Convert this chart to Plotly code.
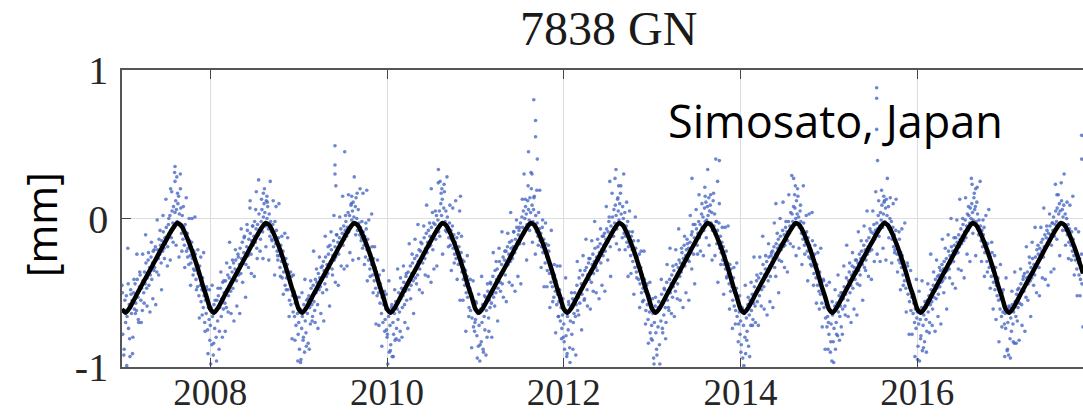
import numpy as np
import plotly.graph_objects as go

# ---------------- data ----------------
title_text = "7838 GN"
station_text = "Simosato, Japan"
y_label = "[mm]"
x_tick_vals = [2008, 2010, 2012, 2014, 2016]
x_tick_text = ["2008", "2010", "2012", "2014", "2016"]
y_tick_vals = [-1, 0, 1]
y_tick_text = ["-1", "0", "1"]

scatter_years = [2007, 2008, 2009, 2010, 2011, 2012, 2013, 2014, 2015, 2016, 2017]

# core cloud: one sample every 3 days from Jan 1 of each year
core_step_days = 3
core_2007 = [
    -0.45, -0.78, -0.62, -0.88, -0.55, -0.70, -0.52, -0.66, -0.20, -0.74,
    -0.58, -0.93, -0.48, -0.64, -0.55, -0.80, -0.50, -0.61, -0.44, -0.57,
    -0.62, -0.41, -0.53, -0.70, -0.46, -0.38, -0.55, -0.47, -0.62, -0.42,
    -0.50, -0.36, -0.44, -0.30, -0.47, -0.40, -0.28, -0.45, -0.33, -0.38,
    -0.26, -0.41, -0.30, -0.22, -0.35, -0.33, -0.19, -0.28, -0.36, -0.21,
    -0.27, -0.14, -0.24, -0.18, -0.30, -0.15, -0.22, -0.09, -0.20, -0.13,
    -0.17, -0.06, -0.12, -0.19, -0.04, -0.10, 0.02, -0.08, -0.13, 0.05,
    -0.03, 0.08, -0.06, 0.04, 0.12, 0.06, -0.02, 0.10, 0.15, 0.03,
    -0.05, 0.07, -0.10, 0.02, -0.14, -0.06, -0.18, -0.04, -0.12, -0.22,
    -0.10, -0.20, -0.31, -0.15, -0.25, -0.30, -0.16, -0.27, -0.38, -0.22,
    -0.35, -0.24, -0.41, -0.30, -0.46, -0.37, -0.52, -0.32, -0.45, -0.56,
    -0.48, -0.40, -0.60, -0.52, -0.70, -0.55, -0.64, -0.48, -0.75, -0.60,
    -0.68, -0.82,
]
core_2008 = [
    -0.72, -0.60, -0.85, -0.66, -0.92, -0.58, -0.74, -0.63, -0.80, -0.55,
    -0.69, -0.52, -0.88, -0.60, -0.47, -0.66, -0.54, -0.43, -0.61, -0.50,
    -0.57, -0.42, -0.60, -0.48, -0.38, -0.52, -0.40, -0.33, -0.49, -0.44,
    -0.36, -0.47, -0.30, -0.41, -0.34, -0.28, -0.42, -0.35, -0.24, -0.38,
    -0.31, -0.20, -0.37, -0.27, -0.16, -0.30, -0.23, -0.12, -0.26, -0.31,
    -0.19, -0.08, -0.25, -0.14, -0.21, -0.10, -0.24, -0.15, -0.05, -0.18,
    -0.12, -0.02, -0.16, -0.07, -0.20, -0.04, -0.11, 0.03, -0.08, -0.14,
    -0.02, 0.06, -0.09, 0.01, 0.10, 0.04, -0.05, 0.12, 0.00, 0.08,
    -0.07, 0.03, -0.12, -0.02, -0.09, -0.15, -0.04, -0.19, -0.11, -0.02,
    -0.17, -0.08, -0.22, -0.28, -0.13, -0.25, -0.33, -0.18, -0.29, -0.40,
    -0.22, -0.36, -0.30, -0.45, -0.27, -0.40, -0.31, -0.48, -0.37, -0.55,
    -0.44, -0.58, -0.39, -0.52, -0.63, -0.49, -0.66, -0.57, -0.72, -0.53,
    -0.64, -0.78,
]
core_2009 = [
    -0.70, -0.88, -0.61, -0.95, -0.74, -0.66, -0.82, -0.58, -0.90, -0.69,
    -0.77, -0.55, -0.64, -0.84, -0.52, -0.60, -0.71, -0.47, -0.58, -0.66,
    -0.45, -0.56, -0.62, -0.41, -0.50, -0.43, -0.58, -0.37, -0.48, -0.40,
    -0.46, -0.33, -0.41, -0.50, -0.29, -0.35, -0.44, -0.26, -0.39, -0.31,
    -0.37, -0.24, -0.33, -0.18, -0.29, -0.21, -0.34, -0.25, -0.15, -0.28,
    -0.19, -0.26, -0.11, -0.22, -0.16, -0.24, -0.13, -0.19, -0.07, -0.17,
    -0.10, -0.18, -0.05, -0.14, -0.08, -0.02, -0.12, -0.06, 0.04, -0.09,
    0.02, -0.05, 0.09, -0.01, 0.05, 0.11, 0.01, -0.04, 0.08, 0.14,
    0.00, -0.08, 0.06, -0.03, -0.11, -0.06, -0.15, -0.02, -0.20, -0.09,
    -0.18, -0.12, -0.26, -0.07, -0.21, -0.14, -0.28, -0.20, -0.34, -0.24,
    -0.31, -0.19, -0.38, -0.27, -0.42, -0.33, -0.47, -0.36, -0.52, -0.41,
    -0.50, -0.38, -0.57, -0.46, -0.64, -0.53, -0.70, -0.58, -0.49, -0.68,
    -0.61, -0.75,
]
core_2010 = [
    -0.80, -0.98, -0.66, -0.90, -0.72, -0.85, -0.60, -0.93, -0.70, -0.78,
    -0.64, -0.82, -0.56, -0.74, -0.61, -0.68, -0.50, -0.63, -0.76, -0.54,
    -0.47, -0.60, -0.52, -0.43, -0.58, -0.49, -0.39, -0.55, -0.44, -0.36,
    -0.48, -0.41, -0.32, -0.45, -0.37, -0.30, -0.42, -0.36, -0.27, -0.40,
    -0.33, -0.25, -0.38, -0.29, -0.21, -0.34, -0.22, -0.28, -0.17, -0.30,
    -0.24, -0.13, -0.27, -0.20, -0.10, -0.23, -0.16, -0.08, -0.19, -0.12,
    -0.18, -0.06, -0.13, -0.21, -0.03, -0.11, -0.04, -0.14, 0.02, -0.07,
    -0.01, -0.09, 0.05, -0.04, 0.10, 0.02, 0.13, -0.03, 0.07, 0.18,
    -0.02, 0.05, -0.09, 0.01, -0.06, -0.13, -0.03, -0.18, -0.08, -0.14,
    -0.05, -0.20, -0.11, -0.24, -0.16, -0.27, -0.13, -0.22, -0.31, -0.19,
    0.05, -0.30, -0.23, -0.36, -0.28, -0.41, -0.29, -0.45, -0.35, -0.50,
    -0.39, -0.53, -0.44, -0.60, -0.47, -0.62, -0.51, -0.67, -0.56, -0.73,
    -0.59, -0.70,
]
core_2011 = [
    -0.68, -0.57, -0.79, -0.64, -0.86, -0.72, -0.96, -0.61, -0.83, -0.70,
    -0.58, -0.90, -0.66, -0.75, -0.53, -0.62, -0.80, -0.49, -0.67, -0.55,
    -0.60, -0.44, -0.57, -0.51, -0.39, -0.53, -0.46, -0.35, -0.50, -0.41,
    -0.34, -0.47, -0.39, -0.29, -0.43, -0.37, -0.31, -0.44, -0.26, -0.35,
    -0.28, -0.38, -0.22, -0.32, -0.19, -0.31, -0.24, -0.16, -0.29, -0.20,
    -0.15, -0.27, -0.19, -0.09, -0.23, -0.14, -0.20, -0.06, -0.16, -0.11,
    -0.08, -0.17, -0.03, -0.12, 0.01, -0.06, 0.05, -0.10, 0.00, 0.08,
    0.03, -0.04, 0.12, 0.06, -0.01, 0.14, 0.04, 0.20, 0.09, -0.02,
    0.06, 0.15, -0.04, 0.02, -0.09, -0.03, -0.12, 0.04, -0.07, -0.15,
    -0.10, -0.19, -0.06, -0.23, -0.14, -0.21, -0.30, -0.17, -0.26, -0.35,
    -0.28, -0.22, -0.37, -0.31, -0.43, -0.35, -0.46, -0.40, -0.53, -0.38,
    -0.49, -0.42, -0.58, -0.51, -0.66, -0.56, -0.48, -0.69, -0.60, -0.74,
    -0.65, -0.80,
]
core_2012 = [
    -0.71, -0.88, -0.63, -0.79, -0.93, -0.66, -0.75, -0.58, -0.87, -0.69,
    -0.61, -0.78, -0.54, -0.70, -0.64, -0.50, -0.66, -0.58, -0.45, -0.62,
    -0.53, -0.40, -0.57, -0.48, -0.44, -0.51, -0.38, -0.46, -0.55, -0.35,
    -0.43, -0.33, -0.48, -0.38, -0.30, -0.41, -0.27, -0.35, -0.43, -0.31,
    -0.24, -0.37, -0.29, -0.20, -0.33, -0.26, -0.35, -0.19, -0.28, -0.23,
    -0.17, -0.30, -0.21, -0.12, -0.25, -0.18, -0.10, -0.22, -0.14, -0.07,
    -0.16, -0.09, -0.02, -0.13, -0.19, -0.05, -0.12, 0.01, -0.08, 0.06,
    -0.03, 0.09, 0.02, -0.07, 0.13, 0.05, -0.01, 0.10, 0.17, 0.03,
    -0.04, 0.08, 0.00, -0.10, 0.04, -0.12, -0.05, -0.16, -0.02, -0.19,
    -0.09, -0.17, -0.25, -0.12, -0.21, -0.29, -0.15, -0.24, -0.33, -0.20,
    -0.36, -0.26, -0.32, -0.41, -0.24, -0.44, -0.33, -0.50, -0.38, -0.47,
    -0.55, -0.41, -0.49, -0.62, -0.45, -0.58, -0.68, -0.52, -0.63, -0.77,
    -0.60, -0.72,
]
core_2013 = [
    -0.82, -0.64, -0.94, -0.70, -0.59, -0.77, -0.88, -0.62, -0.73, -0.56,
    -0.85, -0.60, -0.69, -0.51, -0.74, -0.57, -0.65, -0.48, -0.60, -0.70,
    -0.43, -0.55, -0.49, -0.62, -0.41, -0.50, -0.44, -0.38, -0.53, -0.46,
    -0.35, -0.42, -0.49, -0.31, -0.40, -0.44, -0.33, -0.28, -0.39, -0.30,
    -0.36, -0.23, -0.31, -0.27, -0.18, -0.32, -0.25, -0.21, -0.14, -0.28,
    -0.20, -0.29, -0.16, -0.23, -0.11, -0.09, -0.19, -0.24, -0.13, -0.04,
    -0.15, -0.07, -0.18, -0.10, -0.02, -0.13, -0.04, -0.09, 0.03, -0.06,
    0.01, -0.08, 0.07, -0.02, 0.11, -0.01, 0.08, 0.02, 0.14, 0.05,
    0.09, -0.03, 0.04, -0.08, 0.12, -0.05, 0.03, -0.11, -0.02, -0.17,
    -0.08, -0.14, -0.03, -0.20, -0.12, -0.23, -0.16, -0.28, -0.19, -0.31,
    -0.25, -0.34, -0.22, -0.39, -0.30, -0.37, -0.44, -0.31, -0.49, -0.42,
    -0.46, -0.55, -0.40, -0.59, -0.50, -0.62, -0.47, -0.66, -0.55, -0.71,
    -0.63, -0.78,
]
core_2014 = [
    -0.69, -0.85, -0.60, -0.94, -0.72, -0.64, -0.80, -0.91, -0.67, -0.76,
    -0.58, -0.86, -0.65, -0.55, -0.72, -0.62, -0.51, -0.68, -0.57, -0.46,
    -0.59, -0.50, -0.42, -0.56, -0.47, -0.40, -0.52, -0.45, -0.37, -0.48,
    -0.42, -0.31, -0.46, -0.38, -0.34, -0.39, -0.29, -0.34, -0.42, -0.26,
    -0.32, -0.39, -0.25, -0.30, -0.22, -0.27, -0.19, -0.33, -0.24, -0.17,
    -0.26, -0.20, -0.14, -0.28, -0.18, -0.12, -0.21, -0.17, -0.08, -0.19,
    -0.11, -0.18, -0.06, -0.14, -0.09, -0.15, -0.02, -0.10, -0.05, 0.04,
    -0.07, 0.03, -0.02, 0.08, -0.04, 0.07, 0.00, 0.12, 0.03, 0.15,
    0.01, -0.06, 0.05, -0.02, -0.10, -0.07, -0.14, -0.03, -0.18, -0.10,
    -0.16, -0.09, -0.22, -0.13, -0.26, -0.18, -0.27, -0.21, -0.32, -0.15,
    -0.29, -0.37, -0.24, -0.33, -0.40, -0.31, -0.45, -0.38, -0.49, -0.36,
    -0.51, -0.43, -0.57, -0.48, -0.41, -0.60, -0.52, -0.67, -0.58, -0.73,
    -0.66, -0.70,
]
core_2015 = [
    -0.78, -0.62, -0.90, -0.71, -0.96, -0.65, -0.83, -0.74, -0.59, -0.88,
    -0.70, -0.57, -0.79, -0.63, -0.52, -0.66, -0.59, -0.73, -0.50, -0.61,
    -0.54, -0.46, -0.59, -0.51, -0.40, -0.47, -0.55, -0.42, -0.36, -0.50,
    -0.45, -0.38, -0.32, -0.47, -0.36, -0.33, -0.41, -0.37, -0.28, -0.44,
    -0.30, -0.35, -0.24, -0.38, -0.27, -0.22, -0.31, -0.26, -0.18, -0.33,
    -0.21, -0.28, -0.15, -0.24, -0.19, -0.13, -0.22, -0.17, -0.09, -0.21,
    -0.16, -0.10, -0.04, -0.14, -0.08, -0.11, -0.03, -0.07, 0.02, -0.12,
    -0.05, 0.04, -0.01, 0.09, -0.06, 0.03, 0.11, -0.02, 0.07, 0.13,
    0.02, -0.05, 0.08, -0.07, 0.00, -0.09, -0.02, -0.14, -0.06, -0.19,
    -0.11, -0.21, -0.08, -0.17, -0.24, -0.20, -0.28, -0.14, -0.30, -0.23,
    -0.33, -0.25, -0.38, -0.29, -0.42, -0.34, -0.47, -0.39, -0.30, -0.51,
    -0.44, -0.56, -0.47, -0.62, -0.53, -0.49, -0.64, -0.57, -0.70, -0.61,
    -0.74, -0.67,
]
core_2016 = [
    -0.63, -0.86, -0.71, -0.96, -0.68, -0.79, -0.60, -0.89, -0.72, -0.65,
    -0.83, -0.59, -0.68, -0.76, -0.55, -0.63, -0.52, -0.70, -0.58, -0.48,
    -0.56, -0.61, -0.45, -0.53, -0.49, -0.41, -0.54, -0.47, -0.39, -0.51,
    -0.38, -0.46, -0.35, -0.43, -0.31, -0.42, -0.34, -0.29, -0.40, -0.36,
    -0.27, -0.35, -0.31, -0.22, -0.34, -0.25, -0.30, -0.19, -0.27, -0.22,
    -0.29, -0.18, -0.24, -0.13, -0.21, -0.16, -0.23, -0.11, -0.19, -0.14,
    -0.07, -0.17, -0.12, -0.04, -0.15, -0.09, -0.01, -0.13, -0.05, 0.03,
    -0.08, 0.02, -0.03, 0.07, 0.00, 0.10, 0.04, -0.01, 0.14, 0.06,
    0.08, -0.02, 0.11, 0.03, -0.07, -0.01, -0.10, -0.05, -0.15, -0.08,
    -0.19, -0.11, -0.06, -0.23, -0.16, -0.21, -0.29, -0.17, -0.25, -0.33,
    -0.26, -0.31, -0.39, -0.23, -0.35, -0.43, -0.36, -0.48, -0.33, -0.45,
    -0.52, -0.40, -0.55, -0.47, -0.61, -0.54, -0.66, -0.50, -0.63, -0.59,
    -0.71, -0.64,
]
core_2017 = [
    -0.74, -0.62, -0.89, -0.70, -0.92, -0.60, -0.81, -0.67, -0.76, -0.58,
    -0.71, -0.63, -0.84, -0.56, -0.66, -0.51, -0.69, -0.60, -0.47, -0.57,
    -0.52, -0.44, -0.58, -0.48, -0.41, -0.49, -0.37, -0.45, -0.53, -0.40,
    -0.36, -0.44, -0.39, -0.30, -0.42, -0.33, -0.40, -0.27, -0.37, -0.31,
    -0.38, -0.26, -0.32, -0.21, -0.29, -0.24, -0.33, -0.20, -0.27, -0.16,
    -0.22, -0.14, -0.26, -0.19, -0.11, -0.20, -0.13, -0.08, -0.17, -0.10,
    -0.14, -0.05, -0.11, -0.18, -0.03, -0.08, 0.01, -0.12, -0.04, 0.05,
    -0.02, 0.07, -0.05, 0.03, 0.10, 0.05, -0.03, 0.12, 0.06, 0.01,
    0.09, -0.04, 0.03, -0.08, 0.00, -0.11, -0.04, -0.16, -0.07, -0.13,
    -0.18, -0.09, -0.22, -0.14, -0.25, -0.19, -0.28, -0.23, -0.34, -0.26,
    -0.30, -0.38, -0.27, -0.41, -0.33, -0.44, -0.36,
]

# outer cloud: one sample every 6 days, starting 1.5 days into each year
outer_step_days = 6
outer_start_day = 1.5
outer_2007 = [
    -0.50, -0.92, -0.62, -0.99, -0.44, -0.81, -0.51, -0.91, -0.41, -0.64,
    -0.24, -0.68, -0.36, -0.70, -0.24, -0.57, -0.11, -0.59, -0.23, -0.63,
    -0.16, -0.54, -0.21, -0.58, -0.01, -0.38, -0.08, -0.48, 0.02, -0.27,
    0.13, -0.32, 0.00, -0.28, 0.18, -0.16, 0.31, -0.18, 0.17, -0.26,
    0.20, -0.22, 0.08, -0.33, 0.14, -0.26, 0.00, -0.45, 0.00, -0.34,
    0.01, -0.48, -0.21, -0.67, -0.26, -0.65, -0.23, -0.76, -0.46, -0.91,
    -0.48,
]
outer_2008 = [
    -0.98, -0.45, -0.84, -0.55, -0.96, -0.47, -0.76, -0.36, -0.80, -0.42,
    -0.76, -0.30, -0.63, -0.16, -0.64, -0.28, -0.69, -0.21, -0.59, -0.26,
    -0.64, -0.07, -0.43, -0.13, -0.53, -0.04, -0.33, 0.07, -0.37, -0.05,
    -0.39, 0.06, -0.27, 0.26, -0.22, 0.13, -0.27, 0.20, -0.19, 0.11,
    -0.28, 0.25, -0.14, 0.12, -0.38, 0.08, -0.25, 0.10, -0.39, -0.12,
    -0.51, -0.10, -0.48, -0.13, -0.66, -0.36, -0.81, -0.38, -0.82, -0.54,
    -0.96,
]
outer_2009 = [
    -0.53, -0.97, -0.50, -0.80, -0.41, -0.86, -0.54, -0.88, -0.42, -0.69,
    -0.22, -0.70, -0.34, -0.74, -0.26, -0.64, -0.32, -0.69, -0.12, -0.48,
    -0.19, -0.59, -0.09, -0.38, 0.02, -0.43, -0.11, -0.45, 0.01, -0.32,
    0.15, -0.34, 0.02, -0.32, 0.16, -0.23, 0.10, -0.28, 0.28, -0.11,
    0.17, -0.27, 0.20, -0.13, 0.17, -0.31, -0.03, -0.42, -0.01, -0.39,
    0.03, -0.50, -0.19, -0.71, -0.28, -0.72, -0.44, -0.86, -0.35, -0.76,
    -0.51,
]
outer_2010 = [
    -0.78, -0.42, -0.89, -0.58, -0.93, -0.48, -0.81, -0.34, -0.82, -0.40,
    -0.80, -0.32, -0.70, -0.37, -0.74, -0.17, -0.54, -0.24, -0.64, -0.14,
    -0.44, -0.04, -0.48, -0.16, -0.50, -0.05, -0.38, 0.09, -0.39, -0.03,
    -0.43, 0.04, -0.34, 0.05, -0.32, 0.24, -0.12, 0.17, -0.24, 0.23,
    -0.08, 0.28, -0.19, 0.09, -0.35, 0.07, -0.30, 0.12, -0.41, -0.10,
    -0.55, -0.12, -0.55, -0.34, -0.76, -0.25, -0.66, -0.41, -0.87, -0.42,
    -0.76,
]
outer_2011 = [
    -0.56, -0.94, -0.51, -0.85, -0.39, -0.88, -0.52, -0.92, -0.44, -0.76,
    -0.43, -0.80, -0.23, -0.59, -0.29, -0.69, -0.20, -0.49, -0.09, -0.53,
    -0.22, -0.56, -0.10, -0.43, 0.04, -0.45, -0.09, -0.49, -0.01, -0.39,
    -0.06, -0.44, 0.13, -0.17, 0.13, -0.28, 0.22, -0.08, 0.31, -0.16,
    0.14, -0.24, 0.19, -0.18, 0.19, -0.33, -0.01, -0.46, -0.03, -0.46,
    -0.18, -0.60, -0.08, -0.56, -0.31, -0.77, -0.32, -0.66, -0.32, -0.81,
    -0.54,
]
outer_2012 = [
    -0.83, -0.40, -0.91, -0.56, -0.97, -0.50, -0.88, -0.55, -0.92, -0.29,
    -0.65, -0.35, -0.75, -0.25, -0.54, -0.14, -0.59, -0.27, -0.61, -0.15,
    -0.49, -0.02, -0.50, -0.14, -0.54, -0.07, -0.45, -0.12, -0.49, 0.08,
    -0.28, 0.01, -0.39, 0.17, -0.12, 0.27, -0.17, 0.14, -0.21, 0.22,
    -0.13, 0.30, -0.21, 0.11, -0.39, 0.05, -0.37, -0.09, -0.51, 0.01,
    -0.40, -0.15, -0.60, -0.22, -0.56, -0.22, -0.71, -0.44, -0.84, -0.43,
    -0.81,
]
outer_2013 = [
    -0.54, -0.98, -0.53, -0.92, -0.60, -0.98, -0.41, -0.77, -0.47, -0.81,
    -0.31, -0.60, -0.20, -0.64, -0.32, -0.66, -0.21, -0.54, -0.07, -0.55,
    -0.20, -0.60, -0.12, -0.50, -0.17, -0.55, 0.02, -0.34, -0.04, -0.44,
    0.06, -0.24, 0.16, -0.22, 0.10, -0.25, 0.21, -0.13, 0.33, -0.18,
    0.16, -0.28, 0.17, -0.25, -0.02, -0.43, 0.10, -0.31, -0.06, -0.51,
    -0.06, -0.40, -0.05, -0.61, -0.34, -0.74, -0.33, -0.71, -0.30, -0.83,
    -0.52,
]
outer_2014 = [
    -0.90, -0.61, -0.99, -0.45, -0.82, -0.53, -0.93, -0.43, -0.72, -0.26,
    -0.70, -0.38, -0.72, -0.26, -0.59, -0.12, -0.61, -0.25, -0.65, -0.17,
    -0.56, -0.23, -0.60, -0.03, -0.39, -0.10, -0.50, 0.00, -0.29, 0.11,
    -0.33, -0.02, -0.36, 0.16, -0.17, 0.29, -0.19, 0.16, -0.25, 0.20,
    -0.20, 0.09, -0.31, 0.22, -0.24, 0.02, -0.42, 0.03, -0.31, 0.04,
    -0.45, -0.18, -0.57, -0.23, -0.61, -0.20, -0.73, -0.42, -0.88, -0.45,
    -0.88,
]
outer_2015 = [
    -0.43, -0.83, -0.56, -0.97, -0.48, -0.78, -0.38, -0.82, -0.50, -0.78,
    -0.32, -0.65, -0.18, -0.66, -0.30, -0.70, -0.23, -0.61, -0.28, -0.65,
    -0.09, -0.45, -0.15, -0.55, -0.05, -0.35, 0.05, -0.39, -0.07, -0.41,
    0.05, -0.29, 0.18, -0.24, 0.12, -0.29, 0.19, -0.20, 0.12, -0.28,
    0.27, -0.13, 0.14, -0.30, 0.10, -0.23, 0.13, -0.36, -0.09, -0.48,
    -0.07, -0.45, -0.03, -0.63, -0.32, -0.78, -0.35, -0.78, -0.51, -0.93,
    -0.41,
]
outer_2016 = [
    -0.95, -0.49, -0.81, -0.42, -0.87, -0.56, -0.90, -0.44, -0.77, -0.24,
    -0.72, -0.36, -0.76, -0.28, -0.66, -0.33, -0.71, -0.14, -0.50, -0.20,
    -0.61, -0.11, -0.40, 0.00, -0.44, -0.13, -0.47, -0.01, -0.34, 0.13,
    -0.35, 0.00, -0.40, 0.14, -0.24, 0.08, -0.29, 0.27, -0.10, 0.17,
    -0.25, 0.21, -0.11, 0.25, -0.29, -0.01, -0.39, 0.02, -0.36, 0.06,
    -0.47, -0.16, -0.61, -0.25, -0.68, -0.41, -0.83, -0.31, -0.73, -0.48,
    -0.93,
]
outer_2017 = [
    -0.40, -0.88, -0.59, -0.94, -0.49, -0.83, -0.36, -0.84, -0.48, -0.82,
    -0.34, -0.72, -0.39, -0.76, -0.19, -0.55, -0.26, -0.66, -0.16, -0.45,
    -0.06, -0.50, -0.18, -0.52, -0.06, -0.40, 0.07, -0.41, -0.05, -0.45,
    0.03, -0.36, -0.03, -0.34, 0.23, -0.14, 0.16, -0.25, 0.24, -0.08,
    0.30, -0.18, 0.11, -0.27, 0.09, -0.28, 0.15, -0.38, -0.07, -0.52,
    -0.09, -0.52, -0.24, -0.73,
]

# sparse high outliers (vertical streaks of dots above the peaks)
spike_x = [2007.55, 2007.60, 2007.60, 2007.62, 2007.66,
           2008.45, 2008.52, 2008.60, 2008.64,
           2009.41, 2009.41, 2009.41, 2009.42, 2009.52, 2009.60, 2009.77,
           2010.50, 2010.58, 2010.60, 2010.62, 2010.83,
           2011.55, 2011.60, 2011.64, 2011.66, 2011.68, 2011.68, 2011.70,
           2012.52, 2012.59, 2012.62,
           2013.45, 2013.60, 2013.72, 2013.74, 2013.76,
           2014.40, 2014.60, 2014.62,
           2015.54, 2015.54, 2015.54, 2015.55, 2015.62,
           2016.62, 2016.66,
           2017.58, 2017.86, 2017.86]
spike_y = [0.20, 0.35, 0.25, 0.28, 0.30,
           0.12, 0.18, 0.17, 0.15,
           0.49, 0.36, 0.30, 0.22, 0.45, 0.15, 0.19,
           0.20, 0.33, 0.25, 0.20, 0.15,
           0.30, 0.45, 0.30, 0.80, 0.66, 0.55, 0.40,
           0.25, 0.33, 0.22,
           0.27, 0.15, 0.40, 0.25, 0.39,
           0.10, 0.27, 0.22,
           0.88, 0.81, 0.60, 0.39, 0.15,
           0.23, 0.20,
           0.16, 0.56, 0.40]

# fitted seasonal signal, sampled every half month from 2007.0
fit_start_year = 2007
fit_samples_per_year = 24
fit_curve = [
    -0.61, -0.635, -0.605, -0.56, -0.512, -0.466, -0.42, -0.375, -0.33, -0.283, -0.237, -0.19, -0.146, -0.10, -0.06, -0.03, -0.045, -0.09, -0.15, -0.215, -0.29, -0.37, -0.455, -0.53,
    -0.61, -0.635, -0.605, -0.56, -0.512, -0.466, -0.42, -0.375, -0.33, -0.283, -0.237, -0.19, -0.146, -0.10, -0.06, -0.03, -0.045, -0.09, -0.15, -0.215, -0.29, -0.37, -0.455, -0.53,
    -0.61, -0.635, -0.605, -0.56, -0.512, -0.466, -0.42, -0.375, -0.33, -0.283, -0.237, -0.19, -0.146, -0.10, -0.06, -0.03, -0.045, -0.09, -0.15, -0.215, -0.29, -0.37, -0.455, -0.53,
    -0.61, -0.635, -0.605, -0.56, -0.512, -0.466, -0.42, -0.375, -0.33, -0.283, -0.237, -0.19, -0.146, -0.10, -0.06, -0.03, -0.045, -0.09, -0.15, -0.215, -0.29, -0.37, -0.455, -0.53,
    -0.61, -0.635, -0.605, -0.56, -0.512, -0.466, -0.42, -0.375, -0.33, -0.283, -0.237, -0.19, -0.146, -0.10, -0.06, -0.03, -0.045, -0.09, -0.15, -0.215, -0.29, -0.37, -0.455, -0.53,
    -0.61, -0.635, -0.605, -0.56, -0.512, -0.466, -0.42, -0.375, -0.33, -0.283, -0.237, -0.19, -0.146, -0.10, -0.06, -0.03, -0.045, -0.09, -0.15, -0.215, -0.29, -0.37, -0.455, -0.53,
    -0.61, -0.635, -0.605, -0.56, -0.512, -0.466, -0.42, -0.375, -0.33, -0.283, -0.237, -0.19, -0.146, -0.10, -0.06, -0.03, -0.045, -0.09, -0.15, -0.215, -0.29, -0.37, -0.455, -0.53,
    -0.61, -0.635, -0.605, -0.56, -0.512, -0.466, -0.42, -0.375, -0.33, -0.283, -0.237, -0.19, -0.146, -0.10, -0.06, -0.03, -0.045, -0.09, -0.15, -0.215, -0.29, -0.37, -0.455, -0.53,
    -0.61, -0.635, -0.605, -0.56, -0.512, -0.466, -0.42, -0.375, -0.33, -0.283, -0.237, -0.19, -0.146, -0.10, -0.06, -0.03, -0.045, -0.09, -0.15, -0.215, -0.29, -0.37, -0.455, -0.53,
    -0.61, -0.635, -0.605, -0.56, -0.512, -0.466, -0.42, -0.375, -0.33, -0.283, -0.237, -0.19, -0.146, -0.10, -0.06, -0.03, -0.045, -0.09, -0.15, -0.215, -0.29, -0.37, -0.455, -0.53,
    -0.61, -0.635, -0.605, -0.56, -0.512, -0.466, -0.42, -0.375, -0.33, -0.283, -0.237, -0.19, -0.146, -0.10, -0.06, -0.03, -0.045, -0.09, -0.15, -0.215, -0.29, -0.37,
]

x_range = [2007.0, 2017.875]
y_range = [-1.0, 1.0]

# ---------------- build traces ----------------
core_lists = [core_2007, core_2008, core_2009, core_2010, core_2011, core_2012,
              core_2013, core_2014, core_2015, core_2016, core_2017]
outer_lists = [outer_2007, outer_2008, outer_2009, outer_2010, outer_2011, outer_2012,
               outer_2013, outer_2014, outer_2015, outer_2016, outer_2017]

pts_x, pts_y = [], []
for yr, vals in zip(scatter_years, core_lists):
    pts_x.extend((yr + np.arange(len(vals)) * core_step_days / 365.25).tolist())
    pts_y.extend(vals)
for yr, vals in zip(scatter_years, outer_lists):
    pts_x.extend((yr + (outer_start_day + np.arange(len(vals)) * outer_step_days) / 365.25).tolist())
    pts_y.extend(vals)
pts_x.extend(spike_x)
pts_y.extend(spike_y)

fit_x = fit_start_year + np.arange(len(fit_curve)) / fit_samples_per_year

fig = go.Figure()
fig.add_trace(go.Scatter(
    x=pts_x, y=pts_y, mode="markers",
    marker=dict(size=3.6, color="rgba(72,104,196,0.8)", line=dict(width=0)),
    hoverinfo="skip", showlegend=False,
))
fig.add_trace(go.Scatter(
    x=fit_x, y=fit_curve, mode="lines",
    line=dict(color="black", width=4.5, shape="spline", smoothing=0.6),
    hoverinfo="skip", showlegend=False,
))

serif = "Liberation Serif, DejaVu Serif, serif"
sans = "Open Sans, Noto Sans, sans-serif"

fig.update_layout(
    width=1083, height=419,
    margin=dict(l=122, r=0, t=70, b=52, autoexpand=False),
    paper_bgcolor="white", plot_bgcolor="white",
    showlegend=False,
    xaxis=dict(
        range=x_range, tickvals=x_tick_vals, ticktext=x_tick_text,
        showgrid=True, gridcolor="#dedede", gridwidth=1,
        showline=True, linecolor="#555555", linewidth=1.6, mirror="ticks",
        ticks="inside", ticklen=9, tickwidth=1.4, tickcolor="#444444",
        tickfont=dict(family=serif, size=37, color="#262626"),
        ticklabelstandoff=-8,
        zeroline=False,
    ),
    yaxis=dict(
        range=y_range, tickvals=y_tick_vals, ticktext=y_tick_text,
        showgrid=True, gridcolor="#dedede", gridwidth=1,
        showline=True, linecolor="#555555", linewidth=1.6, mirror=False,
        ticks="inside", ticklen=9, tickwidth=1.4, tickcolor="#444444",
        tickfont=dict(family=serif, size=40, color="#262626"),
        ticklabelstandoff=4,
        zeroline=False,
    ),
    annotations=[
        dict(text=title_text, xref="paper", yref="paper", x=0.506, y=1.045,
             xanchor="center", yanchor="bottom", showarrow=False,
             font=dict(family=serif, size=48, color="#1a1a1a")),
        dict(text=station_text, xref="paper", yref="paper", x=0.566, y=0.83,
             xanchor="left", yanchor="middle", showarrow=False,
             font=dict(family=sans, size=45, color="black")),
        dict(text=y_label, xref="paper", yref="paper", x=-0.085, y=0.478,
             xanchor="center", yanchor="middle", showarrow=False, textangle=-90,
             font=dict(family=sans, size=42, color="black")),
    ],
)

fig.write_html("out.html")
